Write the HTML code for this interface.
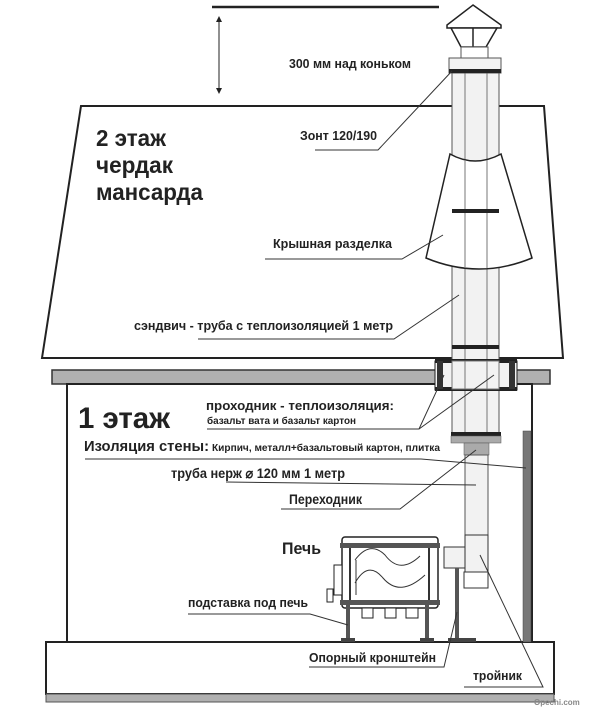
<!DOCTYPE html>
<html><head><meta charset="utf-8"><style>
html,body{margin:0;padding:0;background:#fff;}
svg{display:block;}
text{font-family:"Liberation Sans",sans-serif;font-weight:bold;fill:#222;}
</style></head><body>
<svg width="600" height="715" viewBox="0 0 600 715" xmlns="http://www.w3.org/2000/svg">
<defs>
<marker id="ar" markerWidth="6" markerHeight="6" refX="3" refY="3" orient="auto-start-reverse"><path d="M0,0 L6,3 L0,6 z" fill="#222"/></marker>
</defs>
<line x1="212" y1="7" x2="439" y2="7" stroke="#222" stroke-width="2.5"/>
<line x1="219" y1="19" x2="219" y2="91" stroke="#222" stroke-width="1" marker-start="url(#ar)" marker-end="url(#ar)"/>
<polygon points="81,106 544,106 563,358 42,358" fill="#fff" stroke="#222" stroke-width="2"/>
<rect x="52" y="370" width="498" height="14" fill="#b0b0b0" stroke="#333" stroke-width="1.5"/>
<rect x="67" y="384" width="465" height="258" fill="#fff" stroke="#222" stroke-width="2"/>
<rect x="46" y="642" width="508" height="52" fill="#fff" stroke="#222" stroke-width="2"/>
<rect x="46" y="694" width="508" height="8" fill="#b0b0b0" stroke="#555" stroke-width="1"/>
<text x="534" y="705" font-size="8" style="fill:#888">Opechi.com</text>

<rect x="452" y="58" width="47" height="380" fill="#f2f2f2" stroke="#555" stroke-width="1"/>
<line x1="465" y1="73" x2="465" y2="437" stroke="#777" stroke-width="1"/>
<line x1="487" y1="73" x2="487" y2="437" stroke="#777" stroke-width="1"/>
<polygon points="473,5 501,25 501,28 447,28 447,25" fill="#fff" stroke="#222" stroke-width="1.5"/>
<polygon points="451,28 497,28 486,47 461,47" fill="#fff" stroke="#222" stroke-width="1.5"/>
<line x1="473" y1="28" x2="473" y2="47" stroke="#222" stroke-width="1.5"/>
<rect x="461" y="47" width="27" height="11" fill="#fff" stroke="#555" stroke-width="1"/>
<rect x="449" y="58" width="52" height="15" fill="#f2f2f2" stroke="#555" stroke-width="1"/>
<rect x="449" y="69" width="52" height="4" fill="#222"/>
<path d="M450,154 Q475,168 501,154 L532,258 Q479,280 426,258 Z" fill="#fff" stroke="#222" stroke-width="1.5"/>
<line x1="465" y1="160" x2="465" y2="268" stroke="#777" stroke-width="1"/>
<line x1="487" y1="160" x2="487" y2="268" stroke="#777" stroke-width="1"/>
<rect x="452" y="209" width="47" height="4" fill="#222"/>
<rect x="452" y="345" width="47" height="4" fill="#222"/>
<rect x="435" y="361" width="82" height="29" fill="#f2f2f2" stroke="#222" stroke-width="1"/>
<rect x="435" y="359" width="82" height="4" fill="#222"/>
<rect x="435" y="387" width="82" height="4" fill="#222"/>
<rect x="437" y="361" width="6" height="28" fill="#333"/>
<rect x="509" y="361" width="6" height="28" fill="#333"/>
<rect x="452" y="361" width="47" height="28" fill="#f2f2f2" stroke="#777" stroke-width="1"/>
<line x1="465" y1="361" x2="465" y2="389" stroke="#777"/>
<line x1="487" y1="361" x2="487" y2="389" stroke="#777"/>
<rect x="451" y="432" width="50" height="4" fill="#222"/>
<rect x="451" y="436" width="50" height="7" fill="#aaa" stroke="#555" stroke-width="0.5"/>
<rect x="464" y="443" width="25" height="12" fill="#aaa" stroke="#555" stroke-width="0.5"/>
<rect x="465" y="455" width="23" height="80" fill="#f2f2f2" stroke="#555" stroke-width="1"/>
<rect x="465" y="535" width="23" height="37" fill="#f2f2f2" stroke="#333" stroke-width="1"/>
<rect x="464" y="572" width="24" height="16" fill="#fff" stroke="#333" stroke-width="1"/>
<rect x="444" y="547" width="21" height="21" fill="#f2f2f2" stroke="#333" stroke-width="1"/>
<rect x="523" y="431" width="8" height="211" fill="#777" stroke="#444" stroke-width="0.5"/>

<rect x="342" y="537" width="96" height="71" rx="3" fill="#fff" stroke="#222" stroke-width="1.5"/>
<rect x="340" y="543" width="100" height="5" fill="#555"/>
<line x1="350" y1="548" x2="350" y2="600" stroke="#333" stroke-width="2"/>
<line x1="429" y1="548" x2="429" y2="600" stroke="#333" stroke-width="2"/>
<path d="M355,560 Q370,540 385,555 Q400,575 420,556 M355,583 Q368,560 383,578 Q400,598 425,575" fill="none" stroke="#333" stroke-width="1"/>
<path d="M356,560 L356,595" stroke="#333" fill="none"/>
<rect x="334" y="565" width="8" height="30" fill="#fff" stroke="#222"/>
<rect x="327" y="589" width="6" height="13" fill="#fff" stroke="#222"/>
<rect x="340" y="600" width="100" height="5" fill="#555"/>
<rect x="362" y="608" width="11" height="10" fill="#fff" stroke="#222"/>
<rect x="385" y="608" width="11" height="10" fill="#fff" stroke="#222"/>
<rect x="406" y="608" width="12" height="10" fill="#fff" stroke="#222"/>
<rect x="346" y="605" width="4" height="37" fill="#555"/>
<rect x="425" y="605" width="4" height="37" fill="#555"/>
<rect x="341" y="638" width="14" height="4" fill="#444"/>
<rect x="420" y="638" width="14" height="4" fill="#444"/>
<rect x="455" y="568" width="4" height="72" fill="#555"/>
<rect x="448" y="638" width="28" height="4" fill="#444"/>

<text x="96" y="146" font-size="23" textLength="70" lengthAdjust="spacingAndGlyphs">2 этаж</text>
<text x="96" y="173" font-size="23" textLength="77" lengthAdjust="spacingAndGlyphs">чердак</text>
<text x="96" y="200" font-size="23" textLength="107" lengthAdjust="spacingAndGlyphs">мансарда</text>
<text x="289" y="68" font-size="13" textLength="122" lengthAdjust="spacingAndGlyphs">300 мм над коньком</text>
<text x="300" y="140" font-size="13" textLength="77" lengthAdjust="spacingAndGlyphs">Зонт 120/190</text>
<polyline points="315,150 378,150 452,71" fill="none" stroke="#333"/>
<text x="273" y="248" font-size="13" textLength="119" lengthAdjust="spacingAndGlyphs">Крышная разделка</text>
<polyline points="265,259 402,259 443,235" fill="none" stroke="#333"/>
<text x="134" y="330" font-size="13" textLength="259" lengthAdjust="spacingAndGlyphs">сэндвич - труба с теплоизоляцией 1 метр</text>
<polyline points="198,339 394,339 459,295" fill="none" stroke="#333"/>

<text x="78" y="428" font-size="30" textLength="92" lengthAdjust="spacingAndGlyphs">1 этаж</text>
<text x="206" y="410" font-size="13" textLength="188" lengthAdjust="spacingAndGlyphs">проходник - теплоизоляция:</text>
<text x="207" y="424" font-size="10" textLength="149" lengthAdjust="spacingAndGlyphs">базальт вата и базальт картон</text>
<polyline points="207,429 419,429 444,375" fill="none" stroke="#333"/>
<line x1="419" y1="429" x2="494" y2="375" stroke="#333"/>
<text x="84" y="451" font-size="14.5" textLength="125" lengthAdjust="spacingAndGlyphs">Изоляция стены:</text>
<text x="212" y="451" font-size="10" textLength="228" lengthAdjust="spacingAndGlyphs">Кирпич, металл+базальтовый картон, плитка</text>
<polyline points="85,459 421,459 526,468" fill="none" stroke="#333"/>
<text x="171" y="478" font-size="14" textLength="174" lengthAdjust="spacingAndGlyphs">труба нерж ⌀ 120 мм 1 метр</text>
<polyline points="226,482 476,485" fill="none" stroke="#333"/>
<text x="289" y="504" font-size="13.5" textLength="73" lengthAdjust="spacingAndGlyphs">Переходник</text>
<polyline points="281,509 400,509 476,450" fill="none" stroke="#333"/>
<text x="282" y="554" font-size="17" textLength="39" lengthAdjust="spacingAndGlyphs">Печь</text>
<text x="188" y="607" font-size="13" textLength="120" lengthAdjust="spacingAndGlyphs">подставка под печь</text>
<polyline points="188,614 310,614 348,625" fill="none" stroke="#333"/>
<text x="309" y="662" font-size="13" textLength="127" lengthAdjust="spacingAndGlyphs">Опорный кронштейн</text>
<polyline points="309,667 444,667 457,612" fill="none" stroke="#333"/>
<text x="473" y="680" font-size="13" textLength="49" lengthAdjust="spacingAndGlyphs">тройник</text>
<polyline points="464,687 543,687 480,555" fill="none" stroke="#333"/>
</svg>
</body></html>
